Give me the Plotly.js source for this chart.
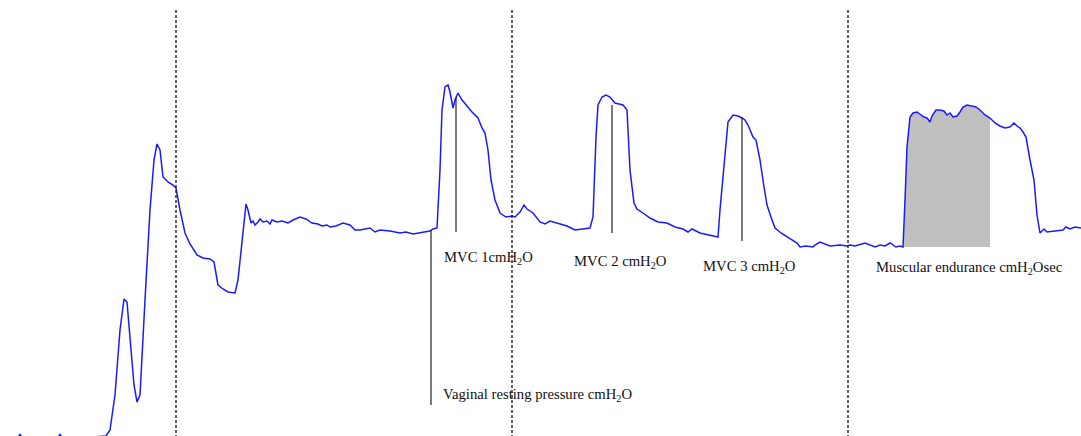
<!DOCTYPE html>
<html>
<head>
<meta charset="utf-8">
<script src="https://cdn.plot.ly/plotly-3.0.1.min.js"></script>
<style>html,body{margin:0;padding:0;background:#fff;}#chart{width:1081px;height:436px;}</style>
</head>
<body>
<div id="chart"></div>
<script>
// Trace (time in px units, pressure as screen-level reading)
const timeX = [18,20,22,40,58,60,62,80,100,106,110,115,120,124,127,130,134,137,140,145,150,154,157,160,163,168,173,176,180,185,190,197,203,210,214,218,223,228,232,235,238,242,246,248,251,253,255,258,260,263,267,270,272,277,282,288,293,300,306,312,318,322,327,330,336,343,350,355,360,370,375,380,390,400,406,413,420,426,430,433,437,440,442,445,448,450,453,455,458,462,467,472,478,482,485,488,491,495,500,506,512,515,520,524,527,533,540,545,550,558,567,575,582,587,590,593,596,598,602,606,610,615,620,623,627,630,634,637,643,650,658,667,675,683,688,692,700,708,715,718,720,723,726,728,733,738,742,745,748,753,756,760,764,767,771,775,781,787,792,797,800,806,813,815,820,830,840,847,850,855,865,875,880,885,890,896,900,902,903,905,907,910,913,917,920,924,927,930,932,936,940,944,947,950,953,957,960,963,967,972,976,980,985,990,995,1000,1005,1010,1014,1017,1020,1023,1026,1030,1034,1037,1040,1044,1047,1055,1063,1066,1070,1075,1081];
const pressY = [438,434,438,438,438,434,438,438,437,436,430,395,330,299,302,340,385,402,395,300,210,160,144,150,177,182,185,188,210,233,244,255,258,259,262,285,289,292,293,293,280,240,204,210,223,221,225,222,219,222,221,224,220,222,221,223,220,217,219,223,224,226,225,227,226,223,225,230,230,228,232,230,231,233,232,234,233,232,231,229,228,170,110,87,85,92,108,100,93,100,106,112,118,128,133,150,180,200,213,217,216,217,212,205,209,213,222,224,221,223,226,230,229,228,228,217,137,105,97,95,97,103,104,105,110,170,203,209,213,218,222,223,227,229,232,229,233,235,236,237,210,175,137,122,115,116,118,120,125,137,140,160,187,205,217,228,233,237,240,243,247,246,247,245,242,246,245,246,245,246,243,247,245,246,243,247,246,247,247,200,147,117,113,112,114,117,118,122,116,110,110,111,115,113,117,116,112,107,105,106,107,110,115,118,123,126,128,127,123,126,128,132,137,160,180,215,233,229,232,231,230,227,229,227,228];

// Annotated marks
const dividerX = [176,512,848];
const markX = [431,456,612,742];
const markTop = [230,97,105,117];
const markBottom = [405,232,233,241];
const labelText = ['Vaginal resting pressure cmH<sub>2</sub>O','MVC 1cmH<sub>2</sub>O','MVC 2 cmH<sub>2</sub>O','MVC 3 cmH<sub>2</sub>O','Muscular endurance cmH<sub>2</sub>Osec'];
const labelX = [441,442,572,701,874];
const labelY = [395,258,262,267,268];
const enduranceStart = 903, enduranceEnd = 990, enduranceBase = 247;

// Shaded endurance area from the trace
const fx = [], fy = [];
for (let i = 0; i < timeX.length; i++) {
  if (timeX[i] >= enduranceStart && timeX[i] <= enduranceEnd) { fx.push(timeX[i]); fy.push(pressY[i]); }
}
fx.push(enduranceEnd, enduranceStart); fy.push(enduranceBase, enduranceBase);

const traces = [
  {x: fx, y: fy, mode: 'lines', fill: 'toself', fillcolor: '#c0c0c0', line: {width: 0, color: '#c0c0c0'}, hoverinfo: 'skip'},
  {x: timeX, y: pressY, mode: 'lines', line: {color: '#1a1aff', width: 1.5}}
];

const shapes = [];
dividerX.forEach(x => shapes.push({type: 'line', x0: x, x1: x, y0: 10, y1: 436, line: {color: '#222', width: 1.4, dash: '3px,2px'}}));
markX.forEach((x, i) => shapes.push({type: 'line', x0: x, x1: x, y0: markTop[i], y1: markBottom[i], line: {color: '#222', width: 1.2}}));

const annotations = labelText.map((t, i) => ({x: labelX[i], y: labelY[i], text: t, showarrow: false, xanchor: 'left', yanchor: 'middle', font: {family: 'Liberation Serif, Times New Roman, serif', size: 14.7, color: '#111'}}));

Plotly.newPlot('chart', traces, {
  width: 1081, height: 436,
  margin: {l: 0, r: 0, t: 0, b: 0},
  paper_bgcolor: '#fff', plot_bgcolor: '#fff',
  showlegend: false,
  xaxis: {range: [0, 1081], visible: false},
  yaxis: {range: [436, 0], visible: false},
  shapes: shapes,
  annotations: annotations
}, {displayModeBar: false, staticPlot: true});
</script>
</body>
</html>
